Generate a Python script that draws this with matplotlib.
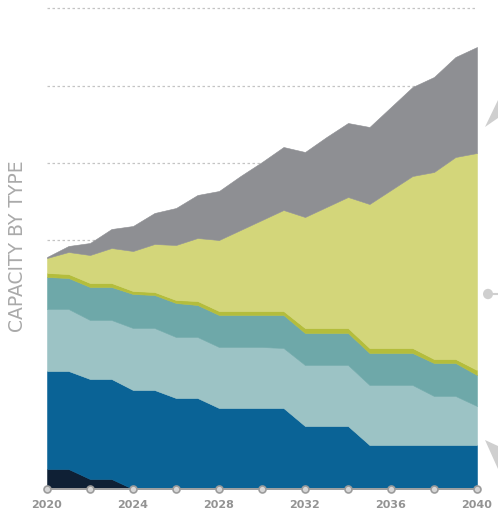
import numpy as np
import matplotlib
matplotlib.use("Agg")
import matplotlib.pyplot as plt
from matplotlib.patches import Polygon, Circle

years = [2020, 2021, 2022, 2023, 2024, 2025, 2026, 2027, 2028, 2029, 2030,
         2031, 2032, 2033, 2034, 2035, 2036, 2037, 2038, 2039, 2040]

navy = [20, 20, 10, 10, 0, 0, 0, 0, 0, 0, 0, 0, 0, 0, 0, 0, 0, 0, 0, 0, 0]
blue = [98, 98, 100, 100, 99, 99, 91, 91, 81, 81, 81, 81, 63, 63, 63, 44, 44, 44, 44, 44, 44]
light_teal = [62, 62, 59, 59, 62, 62, 61, 61, 61, 61, 61, 60, 61, 61, 61, 60, 60, 60, 49, 49, 39]
teal = [32, 31, 33, 33, 34, 33, 34, 32, 32, 32, 32, 33, 32, 32, 32, 32, 32, 32, 33, 33, 31]
olive = [4, 4, 4, 4, 3, 3, 3, 4, 4, 4, 4, 4, 5, 5, 5, 5, 5, 5, 4, 4, 5]
yellow = [15, 22, 28, 35, 40, 48, 55, 63, 71, 81, 91, 101, 111, 121, 131, 144, 158, 172, 187, 202, 217]
gray = [1, 6, 12, 19, 25, 31, 37, 43, 49, 54, 58, 63, 65, 70, 74, 77, 83, 89, 95, 100, 106]

grid_values = [249, 326, 403, 481]
marker_years = [2020, 2022, 2024, 2026, 2028, 2030, 2032, 2034, 2036, 2038, 2040]
tick_years = [2020, 2024, 2028, 2032, 2036, 2040]
y_label = "CAPACITY BY TYPE"

colors = ["#0f2035", "#0a6396", "#9cc3c5", "#6ea8a9", "#b4bd3c", "#d3d67a", "#8e8f93"]

W, H = 498, 517
fig = plt.figure(figsize=(W / 100, H / 100), dpi=100)
ax = fig.add_axes([47 / W, 28 / H, 430 / W, 489 / H])
ax.set_xlim(2020, 2040)
ax.set_ylim(0, 489)
ax.axis("off")

for g in grid_values:
    ax.axhline(g, color="#c4c4c4", lw=0.9, ls=(0, (2, 2)), zorder=0)

polys = ax.stackplot(years, navy, blue, light_teal, teal, olive, yellow, gray,
                     colors=colors, zorder=2)
for p, c in zip(polys, colors):
    p.set_edgecolor(c)
    p.set_linewidth(0.4)

ax.plot([2020, 2040], [0, 0], color="#a2a2a2", lw=1.4, clip_on=False, zorder=4)
ax.plot(marker_years, [0] * len(marker_years), "o", ms=5, mfc="#d6d6d6",
        mec="#9c9c9c", mew=1.2, clip_on=False, zorder=5)

for yr in tick_years:
    ax.text(yr, -16, str(yr), ha="center", va="center", fontsize=8,
            fontweight="bold", color="#939393", clip_on=False)

fig.text(18 / W, 1 - 246 / H, y_label, rotation=90, ha="center", va="center",
         fontsize=13.5, color="#aaaaaa")


def fp(x, y):
    return (x / W, 1 - y / H)


deco_color = "#cfcfcf"
fig.patches.append(Polygon([fp(485, 127), fp(498, 100), fp(498, 118)], closed=True,
                           transform=fig.transFigure, facecolor=deco_color,
                           edgecolor="none"))
fig.patches.append(Polygon([fp(485, 440), fp(498, 446), fp(498, 469)], closed=True,
                           transform=fig.transFigure, facecolor=deco_color,
                           edgecolor="none"))
fig.patches.append(Circle(fp(488, 294), 5 / W, transform=fig.transFigure,
                          facecolor=deco_color, edgecolor="none"))
fig.lines.append(plt.Line2D([488 / W, 498 / W], [1 - 294 / H, 1 - 294 / H],
                            transform=fig.transFigure, color=deco_color, lw=1.5))

fig.savefig("out.png", dpi=100)
